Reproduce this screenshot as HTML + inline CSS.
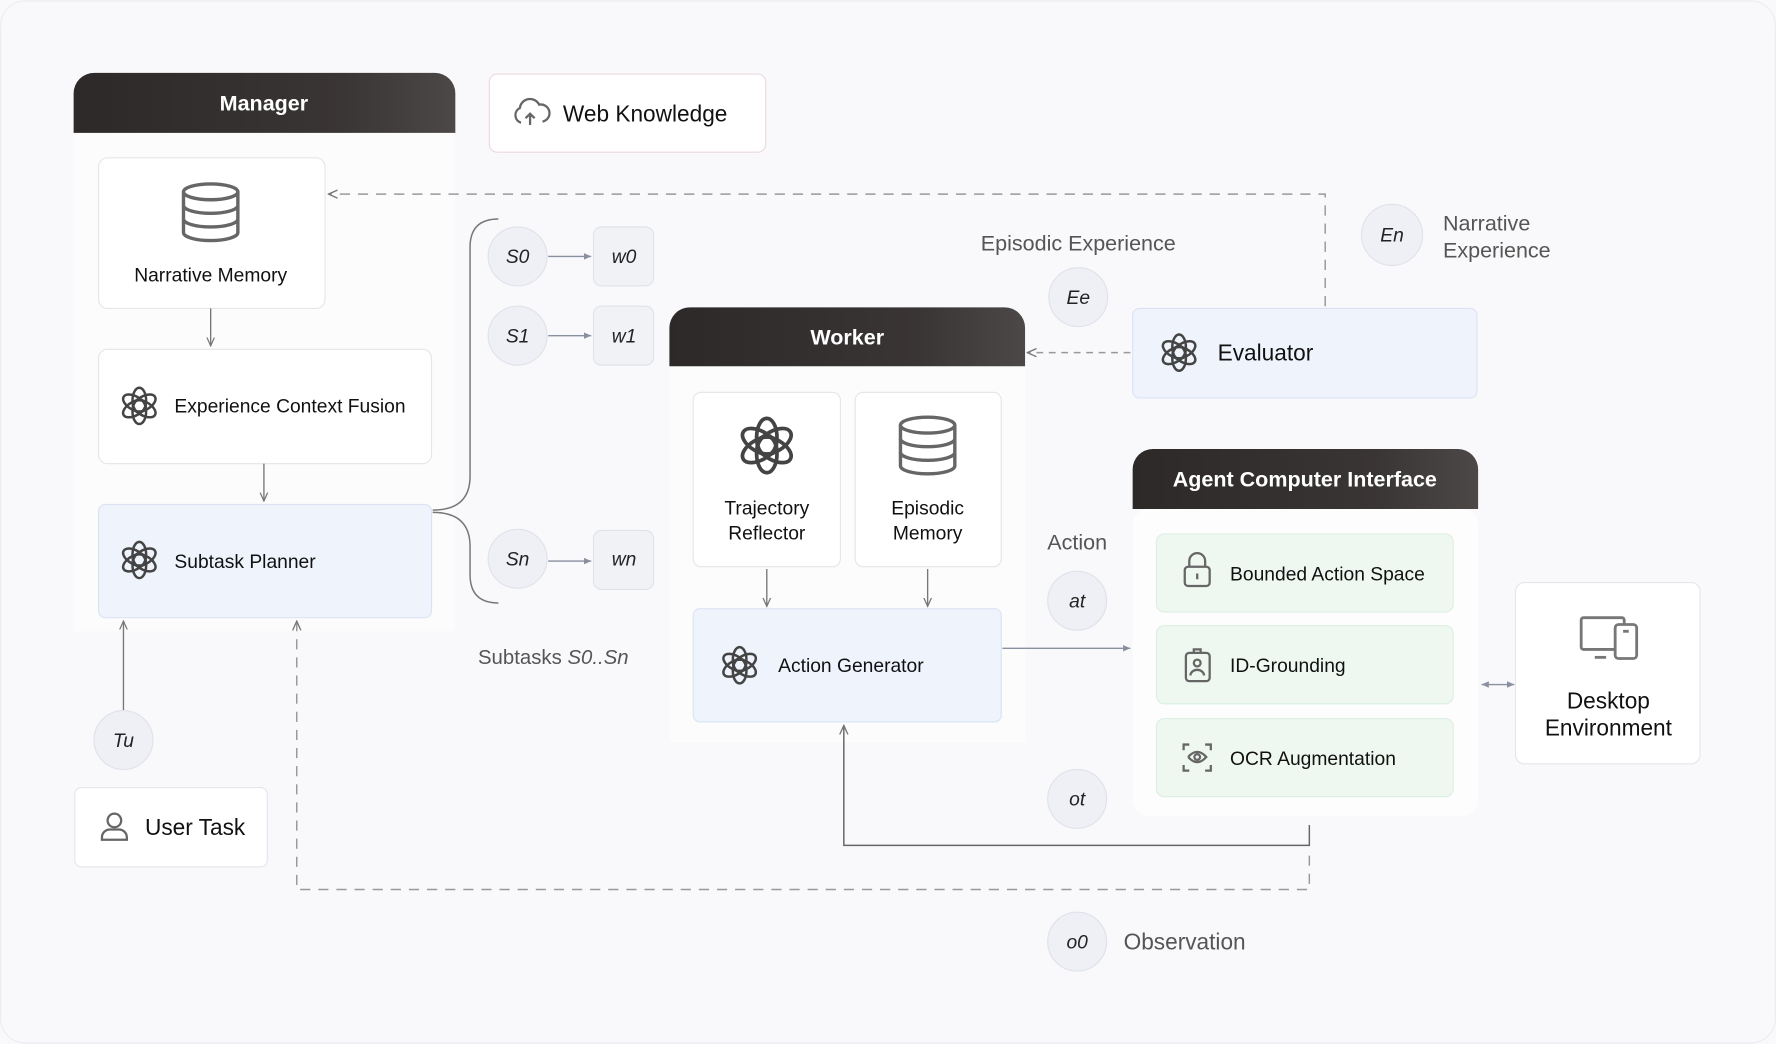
<!DOCTYPE html>
<html><head><meta charset="utf-8"><style>
html,body{margin:0;padding:0;background:#f9f9fb;}
svg{display:block;}
text{font-family:"Liberation Sans",sans-serif;}
</style></head><body>
<svg width="1776" height="1044" viewBox="0 0 1568 921" xmlns="http://www.w3.org/2000/svg">
<defs>
<linearGradient id="hd" x1="0" x2="1"><stop offset="0" stop-color="#2d2929"/><stop offset="0.7" stop-color="#3a3535"/><stop offset="1" stop-color="#4d4848"/></linearGradient>
<marker id="ar" viewBox="0 0 10 10" refX="9" refY="5" markerWidth="7" markerHeight="7" orient="auto-start-reverse"><path d="M0,1 L9,5 L0,9" fill="none" stroke="#777" stroke-width="1.3"/></marker>
<marker id="at" viewBox="0 0 10 10" refX="9" refY="5" markerWidth="6" markerHeight="6" orient="auto-start-reverse"><path d="M0,1 L9,5 L0,9 z" fill="#8a90a0"/></marker>
<g id="oai" fill="none" stroke="#444" stroke-width="2.2">
<ellipse cx="0" cy="-5" rx="6" ry="11" transform="rotate(0)"/>
<ellipse cx="0" cy="-5" rx="6" ry="11" transform="rotate(60)"/>
<ellipse cx="0" cy="-5" rx="6" ry="11" transform="rotate(120)"/>
<ellipse cx="0" cy="-5" rx="6" ry="11" transform="rotate(180)"/>
<ellipse cx="0" cy="-5" rx="6" ry="11" transform="rotate(240)"/>
<ellipse cx="0" cy="-5" rx="6" ry="11" transform="rotate(300)"/>
</g>
<g id="db" fill="#fff" stroke="#666" stroke-width="3">
<path d="M-24,-18 v36 a24,7 0 0 0 48,0 v-36"/>
<ellipse cx="0" cy="-18" rx="24" ry="7"/>
<path d="M-24,-6 a24,7 0 0 0 48,0 M-24,6 a24,7 0 0 0 48,0" fill="none"/>
</g>
</defs>
<rect x="0.5" y="0.5" width="1567" height="920" rx="22" fill="#f9f9fb" stroke="#ececf0"/>

<!-- Manager -->
<rect x="65" y="117" width="337" height="440" fill="#fcfcfd"/>
<path d="M65,117 V82 a18,18 0 0 1 18,-18 H384 a18,18 0 0 1 18,18 V117 Z" fill="url(#hd)"/>
<text x="233" y="97" fill="#fff" font-size="19" font-weight="bold" text-anchor="middle">Manager</text>

<rect x="87" y="139" width="200" height="133" rx="8" fill="#fff" stroke="#e5e5ea"/>
<use href="#db" x="186" y="187"/>
<text x="186" y="248" font-size="17" text-anchor="middle" fill="#111">Narrative Memory</text>
<line x1="186" y1="272" x2="186" y2="305" stroke="#777" stroke-width="1.2" marker-end="url(#ar)"/>

<rect x="87" y="308" width="294" height="101" rx="8" fill="#fff" stroke="#e5e5ea"/>
<use href="#oai" x="123" y="358"/>
<text x="154" y="364" font-size="17" fill="#111">Experience Context Fusion</text>
<line x1="233" y1="409" x2="233" y2="442" stroke="#777" stroke-width="1.2" marker-end="url(#ar)"/>

<rect x="87" y="445" width="294" height="100" rx="6" fill="#eef3fc" stroke="#dbe3f2"/>
<use href="#oai" x="123" y="494"/>
<text x="154" y="501" font-size="17" fill="#111">Subtask Planner</text>

<line x1="109" y1="627" x2="109" y2="548" stroke="#777" stroke-width="1.2" marker-end="url(#ar)"/>
<circle cx="109" cy="653" r="26" fill="#eef0f5" stroke="#dfe2ea"/>
<text x="109" y="659" font-size="17" font-style="italic" text-anchor="middle" fill="#222">Tu</text>

<rect x="66" y="695" width="170" height="70" rx="6" fill="#fff" stroke="#e5e5ea"/>
<g fill="none" stroke="#666" stroke-width="2"><circle cx="101" cy="724" r="6"/><path d="M90,741 v-2 a7,7 0 0 1 7,-7 h8 a7,7 0 0 1 7,7 v2 z"/></g>
<text x="128" y="737" font-size="20" fill="#111">User Task</text>

<!-- Web knowledge -->
<rect x="432" y="65" width="244" height="69" rx="7" fill="#fff" stroke="#ebd8e0"/>
<path d="M460,108 a7,7 0 0 1 -1,-13 a9,9 0 0 1 17,-3 a6,6 0 0 1 3,15 M468,110 v-10 m-4,4 l4,-4 l4,4" fill="none" stroke="#666" stroke-width="2"/>
<text x="497" y="107" font-size="20" fill="#111">Web Knowledge</text>

<!-- dashed top -->
<path d="M1170,270 V171 H290" fill="none" stroke="#999" stroke-width="1.3" stroke-dasharray="9,7" marker-end="url(#ar)"/>

<!-- braces -->
<path d="M440,193 Q415,193 415,218 V420 Q415,450 382,450" fill="none" stroke="#777" stroke-width="1.3"/>
<path d="M382,452 Q415,452 415,482 V507 Q415,532 440,532" fill="none" stroke="#777" stroke-width="1.3"/>

<g font-size="17" font-style="italic" text-anchor="middle" fill="#222">
<circle cx="457" cy="226" r="26" fill="#eef0f5" stroke="#dfe2ea"/><text x="457" y="232">S0</text>
<line x1="484" y1="226" x2="522" y2="226" stroke="#8a90a0" stroke-width="1.2" marker-end="url(#at)"/>
<rect x="524" y="200" width="53" height="52" rx="7" fill="#f1f2f5" stroke="#dfe2ea"/><text x="551" y="232">w0</text>
<circle cx="457" cy="296" r="26" fill="#eef0f5" stroke="#dfe2ea"/><text x="457" y="302">S1</text>
<line x1="484" y1="296" x2="522" y2="296" stroke="#8a90a0" stroke-width="1.2" marker-end="url(#at)"/>
<rect x="524" y="270" width="53" height="52" rx="7" fill="#f1f2f5" stroke="#dfe2ea"/><text x="551" y="302">w1</text>
<circle cx="457" cy="493" r="26" fill="#eef0f5" stroke="#dfe2ea"/><text x="457" y="499">Sn</text>
<line x1="484" y1="495" x2="522" y2="495" stroke="#8a90a0" stroke-width="1.2" marker-end="url(#at)"/>
<rect x="524" y="468" width="53" height="52" rx="7" fill="#f1f2f5" stroke="#dfe2ea"/><text x="551" y="499">wn</text>
</g>
<text x="422" y="586" font-size="18" fill="#555">Subtasks <tspan font-style="italic">S0..Sn</tspan></text>

<!-- Worker -->
<rect x="591" y="323" width="314" height="332" fill="#fcfcfd"/>
<path d="M591,323 V289 a18,18 0 0 1 18,-18 H887 a18,18 0 0 1 18,18 V323 Z" fill="url(#hd)"/>
<text x="748" y="304" fill="#fff" font-size="19" font-weight="bold" text-anchor="middle">Worker</text>

<rect x="612" y="346" width="130" height="154" rx="7" fill="#fff" stroke="#e5e5ea"/>
<g transform="translate(677,393) scale(1.5)"><use href="#oai"/></g>
<text x="677" y="454" font-size="17" text-anchor="middle" fill="#111">Trajectory</text>
<text x="677" y="476" font-size="17" text-anchor="middle" fill="#111">Reflector</text>
<rect x="755" y="346" width="129" height="154" rx="7" fill="#fff" stroke="#e5e5ea"/>
<use href="#db" x="819" y="393"/>
<text x="819" y="454" font-size="17" text-anchor="middle" fill="#111">Episodic</text>
<text x="819" y="476" font-size="17" text-anchor="middle" fill="#111">Memory</text>
<line x1="677" y1="502" x2="677" y2="535" stroke="#777" stroke-width="1.2" marker-end="url(#ar)"/>
<line x1="819" y1="502" x2="819" y2="535" stroke="#777" stroke-width="1.2" marker-end="url(#ar)"/>

<rect x="612" y="537" width="272" height="100" rx="6" fill="#eef3fc" stroke="#dbe3f2"/>
<use href="#oai" x="653" y="587"/>
<text x="687" y="593" font-size="17" fill="#111">Action Generator</text>
<line x1="885" y1="572" x2="998" y2="572" stroke="#8a90a0" stroke-width="1.2" marker-end="url(#at)"/>

<text x="951" y="485" font-size="19" text-anchor="middle" fill="#555">Action</text>
<circle cx="951" cy="530" r="26" fill="#eef0f5" stroke="#dfe2ea"/><text x="951" y="536" font-size="17" font-style="italic" text-anchor="middle" fill="#222">at</text>
<circle cx="951" cy="705" r="26" fill="#eef0f5" stroke="#dfe2ea"/><text x="951" y="711" font-size="17" font-style="italic" text-anchor="middle" fill="#222">ot</text>

<!-- feedback lines -->
<path d="M1156,728 V746 H745 V640" fill="none" stroke="#666" stroke-width="1.3" marker-end="url(#ar)"/>
<path d="M1156,755 V785 H262 V548" fill="none" stroke="#999" stroke-width="1.3" stroke-dasharray="9,7" marker-end="url(#ar)"/>

<!-- Episodic / Evaluator -->
<text x="952" y="221" font-size="19" text-anchor="middle" fill="#555">Episodic Experience</text>
<circle cx="952" cy="262" r="26" fill="#eef0f5" stroke="#dfe2ea"/><text x="952" y="268" font-size="17" font-style="italic" text-anchor="middle" fill="#222">Ee</text>
<circle cx="1229" cy="207" r="27" fill="#eef0f5" stroke="#dfe2ea"/><text x="1229" y="213" font-size="17" font-style="italic" text-anchor="middle" fill="#222">En</text>
<text x="1274" y="203" font-size="19" fill="#555">Narrative</text>
<text x="1274" y="227" font-size="19" fill="#555">Experience</text>

<rect x="1000" y="272" width="304" height="79" rx="6" fill="#eef3fc" stroke="#dbe3f2"/>
<use href="#oai" x="1041" y="311"/>
<text x="1075" y="318" font-size="20" fill="#111">Evaluator</text>
<line x1="998" y1="311" x2="907" y2="311" stroke="#999" stroke-width="1.3" stroke-dasharray="6,5" marker-end="url(#ar)"/>

<!-- ACI -->
<rect x="1000" y="449" width="305" height="271" rx="14" fill="#fdfdfe"/>
<path d="M1000,449 V414 a18,18 0 0 1 18,-18 H1287 a18,18 0 0 1 18,18 V449 Z" fill="url(#hd)"/>
<text x="1152" y="429" fill="#fff" font-size="19" font-weight="bold" text-anchor="middle">Agent Computer Interface</text>

<rect x="1021" y="471" width="262" height="69" rx="7" fill="#eef8f1" stroke="#dcefe2"/>
<g fill="none" stroke="#666" stroke-width="2"><rect x="1046" y="500" width="22" height="17" rx="3"/><path d="M1050,500 v-5 a7,7 0 0 1 14,0 v5 M1057,506 v5"/></g>
<text x="1086" y="512" font-size="17" fill="#111">Bounded Action Space</text>
<rect x="1021" y="552" width="262" height="69" rx="7" fill="#eef8f1" stroke="#dcefe2"/>
<g fill="none" stroke="#666" stroke-width="2"><rect x="1047" y="576" width="21" height="25" rx="3"/><circle cx="1057" cy="585" r="3"/><path d="M1051,596 a6,5 0 0 1 12,0 M1054,576 v-3 h6 v3"/></g>
<text x="1086" y="593" font-size="17" fill="#111">ID-Grounding</text>
<rect x="1021" y="634" width="262" height="69" rx="7" fill="#eef8f1" stroke="#dcefe2"/>
<g fill="none" stroke="#666" stroke-width="2"><path d="M1045,662 v-5 h5 M1064,657 h5 v5 M1045,675 v5 h5 M1064,680 h5 v-5 M1049,668 q8,-9 16,0 q-8,9 -16,0"/><circle cx="1057" cy="668" r="2.5"/></g>
<text x="1086" y="675" font-size="17" fill="#111">OCR Augmentation</text>

<line x1="1308" y1="604" x2="1337" y2="604" stroke="#8a90a0" stroke-width="1.2" marker-start="url(#at)" marker-end="url(#at)"/>
<rect x="1338" y="514" width="163" height="160" rx="8" fill="#fff" stroke="#e5e5ea"/>
<g fill="none" stroke="#777" stroke-width="2.5"><rect x="1396" y="545" width="38" height="28" rx="2"/><path d="M1408,580 h10"/><rect x="1426" y="551" width="19" height="30" rx="3" fill="#fff"/><path d="M1433,557 h5"/></g>
<text x="1420" y="625" font-size="20" text-anchor="middle" fill="#111">Desktop</text>
<text x="1420" y="649" font-size="20" text-anchor="middle" fill="#111">Environment</text>

<circle cx="951" cy="831" r="26" fill="#eef0f5" stroke="#dfe2ea"/><text x="951" y="837" font-size="17" font-style="italic" text-anchor="middle" fill="#222">o0</text>
<text x="992" y="838" font-size="20" fill="#555">Observation</text>
</svg>
</body></html>
